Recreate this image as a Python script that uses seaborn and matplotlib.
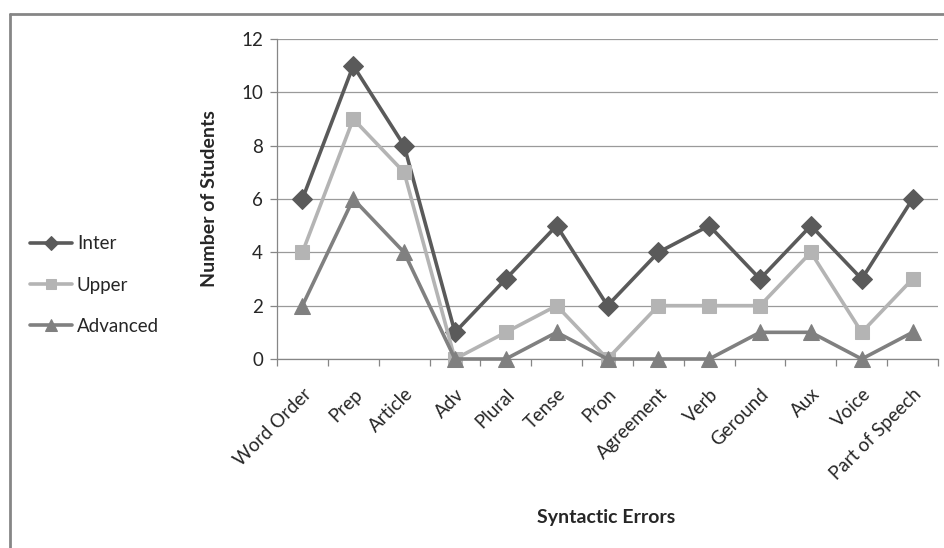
import matplotlib
matplotlib.use('Agg')
from matplotlib import pyplot as plt
from matplotlib.lines import Line2D
import pandas as pd
import seaborn as sns

# syntactic error counts per student level
categories = ['Word Order', 'Prep', 'Article', 'Adv', 'Plural', 'Tense', 'Pron',
              'Agreement', 'Verb', 'Geround', 'Aux', 'Voice', 'Part of Speech']
inter = [6, 11, 8, 1, 3, 5, 2, 4, 5, 3, 5, 3, 6]
upper = [4, 9, 7, 0, 1, 2, 0, 2, 2, 2, 4, 1, 3]
advanced = [2, 6, 4, 0, 0, 1, 0, 0, 0, 1, 1, 0, 1]
y_ticks = [0, 2, 4, 6, 8, 10, 12]

series = [('Inter', inter, '#5a5a5a', 'D', 10),
          ('Upper', upper, '#b4b4b4', 's', 10),
          ('Advanced', advanced, '#808080', '^', 11)]

sns.set_style('white')
plt.rcParams['font.family'] = ['Lato', 'DejaVu Sans']

fig = plt.figure(figsize=(9.45, 5.48), dpi=100)
ax = fig.add_axes([277 / 945, 1 - 359 / 548, 661 / 945, 320 / 548])

pos = list(range(len(categories)))
for name, vals, col, mk, ms in series:
    df = pd.DataFrame({'pos': pos, 'value': vals})
    sns.lineplot(data=df, x='pos', y='value', ax=ax, color=col, marker=mk,
                 markersize=ms, markeredgecolor=col, linewidth=2.6,
                 label=name, sort=False, clip_on=False, zorder=3)

ax.set_xlim(-0.5, len(categories) - 0.5)
ax.set_ylim(0, 12)
ax.set_yticks(y_ticks)
ax.set_yticklabels([str(v) for v in y_ticks], fontsize=13.5)
ax.yaxis.grid(True, color='#9a9a9a', linewidth=0.9)
ax.set_axisbelow(True)

# category labels at centres, tick marks at boundaries
ax.set_xticks(pos)
ax.set_xticklabels(categories, rotation=45, ha='right', rotation_mode='anchor',
                   fontsize=13.5)
ax.set_xticks([p - 0.5 for p in pos] + [len(categories) - 0.5], minor=True)
ax.tick_params(axis='x', which='major', length=0, pad=19)
ax.tick_params(axis='x', which='minor', length=5, width=0.9, color='#868686',
               direction='out', bottom=True)
ax.tick_params(axis='y', length=5, width=0.9, color='#868686', direction='out',
               left=True, pad=5)

for side in ['top', 'right']:
    ax.spines[side].set_visible(False)
for side in ['left', 'bottom']:
    ax.spines[side].set_color('#868686')
    ax.spines[side].set_linewidth(0.9)

ax.set_xlabel('')
ax.set_ylabel('Number of Students', fontsize=14, fontweight='bold', labelpad=17)
fig.text(606 / 945, 1 - 518 / 548, 'Syntactic Errors', fontsize=14,
         fontweight='bold', ha='center', va='center')

leg = ax.legend(loc='center left', bbox_to_anchor=(30 / 945, 1 - 285 / 548),
                bbox_transform=fig.transFigure, frameon=False, fontsize=13.5,
                handlelength=2.25, handletextpad=0.25, labelspacing=1.3,
                borderaxespad=0, borderpad=0, markerscale=0.75)

# outer chart frame (top and left edges visible)
fig.add_artist(Line2D([10 / 945, 10 / 945], [0, 1 - 14 / 548], color='#868686',
                      linewidth=2, transform=fig.transFigure))
fig.add_artist(Line2D([10 / 945, 1], [1 - 14 / 548, 1 - 14 / 548], color='#868686',
                      linewidth=2, transform=fig.transFigure))

fig.savefig('out.png', dpi=100)
